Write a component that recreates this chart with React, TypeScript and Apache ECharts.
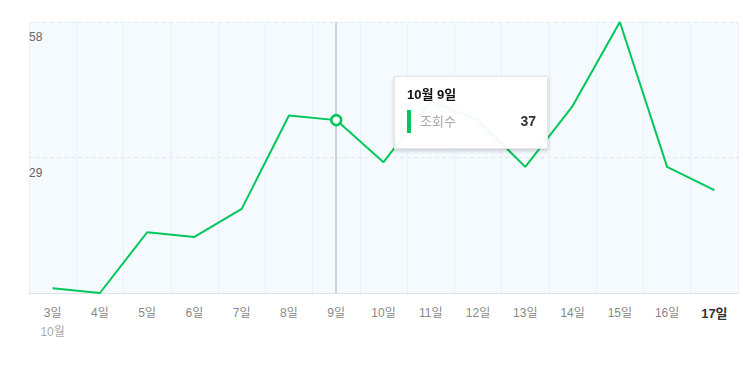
import React, { useEffect, useRef } from "react";
import * as echarts from "echarts";

const days = ["3일", "4일", "5일", "6일", "7일", "8일", "9일", "10일", "11일", "12일", "13일", "14일", "15일", "16일", "17일"];
const views = [1, 0, 13, 12, 18, 38, 37, 28, 41, 37, 27, 40, 58, 27, 22];
const yTicks = [0, 29, 58];
const monthLabel = "10월";
const seriesName = "조회수";
const focusIndex = 6;
const todayIndex = 14;

const GREEN = "#03c75a";
const FONT = '"Liberation Sans", Arial, "Noto Sans CJK KR", sans-serif';

export default function App() {
  const ref = useRef<HTMLDivElement>(null);
  useEffect(() => {
    if (!ref.current) return;
    const chart = echarts.init(ref.current, undefined, { renderer: "svg" });
    const data = views.map((v, i) =>
      i === focusIndex
        ? {
            value: v,
            symbol: "circle",
            symbolSize: 9,
            itemStyle: { color: "#ffffff", borderColor: GREEN, borderWidth: 2.5 },
          }
        : v
    );
    chart.setOption({
      animation: false,
      textStyle: { fontFamily: FONT },
      grid: {
        left: 29,
        right: 5,
        top: 22,
        bottom: 88,
        show: true,
        backgroundColor: "#f5faff",
        borderWidth: 0,
      },
      tooltip: {
        trigger: "axis",
        alwaysShowContent: true,
        transitionDuration: 0,
        padding: 0,
        backgroundColor: "rgba(255,255,255,0.94)",
        borderColor: "#e6e6e6",
        borderWidth: 1,
        borderRadius: 0,
        extraCssText: "box-shadow: 0 2px 4px rgba(0,0,0,0.18); border-radius:0;",
        position: () => [394, 76],
        axisPointer: {
          type: "line",
          z: 1,
          lineStyle: { color: "#cfd4d9", width: 2, type: "solid" },
          label: { show: false },
        },
        formatter: (params: any) => {
          const p = Array.isArray(params) ? params[0] : params;
          const idx = p.dataIndex;
          const title = `${monthLabel} ${days[idx]}`;
          const val = views[idx];
          return `<div style="width:129px;padding:10px 11px 15px 12px;font-family:${FONT.replace(/"/g, "'")};">
<div style="font-weight:bold;font-size:13px;color:#111;line-height:16px;margin-bottom:7px;">${title}</div>
<div style="display:flex;align-items:center;height:23px;">
<span style="display:inline-block;width:4px;height:23px;background:${GREEN};margin-right:9px;"></span>
<span style="color:#aaa;font-size:13px;flex:1;">${seriesName}</span>
<span style="font-weight:bold;font-size:14px;color:#333;">${val}</span>
</div></div>`;
        },
      },
      xAxis: {
        type: "category",
        data: days,
        boundaryGap: true,
        axisLine: { show: true, lineStyle: { color: "#dde3e8", width: 1 } },
        axisTick: { show: false },
        splitLine: { show: true, lineStyle: { color: "#e9f2fb", width: 1 } },
        axisLabel: {
          margin: 12,
          interval: 0,
          formatter: (v: string, i: number) => {
            if (i === 0) return `{d|${v}}\n{m|${monthLabel}}`;
            if (i === todayIndex) return `{b|${v}}`;
            return `{d|${v}}`;
          },
          rich: {
            d: { fontSize: 12, color: "#888", lineHeight: 16, fontFamily: FONT },
            m: { fontSize: 12, color: "#aaa", lineHeight: 22, fontFamily: FONT },
            b: { fontSize: 13, color: "#333", fontWeight: "bold", lineHeight: 16, fontFamily: FONT },
          },
        },
      },
      yAxis: {
        type: "value",
        min: yTicks[0],
        max: yTicks[yTicks.length - 1],
        interval: yTicks[1] - yTicks[0],
        axisLine: { show: false },
        axisTick: { show: false },
        splitLine: { show: true, lineStyle: { color: "#dfe7ef", type: [4, 3], width: 1 } },
        axisLabel: {
          inside: true,
          margin: 0,
          verticalAlign: "top",
          padding: [9, 0, 0, 0],
          color: "#666",
          fontSize: 12,
          fontFamily: FONT,
          formatter: (v: number) => (v === 0 ? "" : String(v)),
        },
      },
      series: [
        {
          name: seriesName,
          type: "line",
          data,
          symbol: "none",
          showSymbol: true,
          lineStyle: { color: GREEN, width: 2 },
          itemStyle: { color: GREEN },
          emphasis: { disabled: true },
          z: 3,
        },
      ],
    });
    chart.dispatchAction({ type: "showTip", seriesIndex: 0, dataIndex: focusIndex });
    return () => chart.dispose();
  }, []);
  return (
    <div
      ref={ref}
      style={{ position: "absolute", left: 0, top: 0, width: 743, height: 381 }}
    />
  );
}
